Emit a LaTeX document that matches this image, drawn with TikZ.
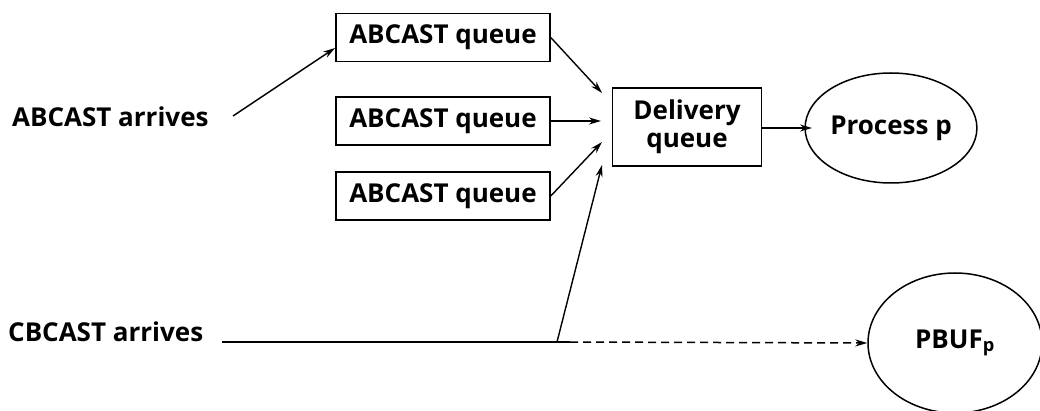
\documentclass[tikz,border=0pt]{standalone}
\usepackage{fontspec}
\setmainfont{Open Sans}
\usetikzlibrary{arrows.meta,shapes.geometric}
\begin{document}
\begin{tikzpicture}[x=1pt,y=-1pt,
  txt/.style={font=\bfseries\fontsize{26}{28}\selectfont},
  lbl/.style={txt, inner sep=0pt},
  qbox/.style={txt, draw, line width=1.5pt, minimum width=214pt, minimum height=48pt, inner sep=0pt},
  ell/.style={txt, ellipse, draw, line width=1.5pt, inner sep=0pt},
  arr/.style={-{Stealth[length=12pt,width=7pt]}, line width=1.4pt},
  line/.style={line width=1.6pt},
]
\useasboundingbox (0,0) rectangle (1040,411);
\node[lbl, anchor=west] (aa) at (12,117) {ABCAST arrives};
\node[qbox] (q1) at (443,37.5) {ABCAST queue};
\node[qbox] (q2) at (443,121) {ABCAST queue};
\node[qbox] (q3) at (443,196) {ABCAST queue};
\node[txt, draw, line width=1.5pt, minimum width=149pt, minimum height=78pt, inner sep=0pt, align=center] (dq) at (687,127) {Delivery\\queue};
\node[ell, minimum width=144pt, minimum height=110pt] (pp) at (891,128) {Process p};
\node[lbl, anchor=west] (ca) at (8,332) {CBCAST arrives};
\node[ell, minimum width=174pt, minimum height=140pt] (pb) at (955,343) {PBUF\textsubscript{p}};
\coordinate (a0) at (233,116);
\coordinate (a1) at (335,48);
\coordinate (t1) at (602,93);
\coordinate (t2) at (601,121);
\coordinate (t3) at (602,142);
\coordinate (t4) at (602,165);
\coordinate (c0) at (222,342);
\coordinate (cj) at (557,342);
\coordinate (c1) at (570,342);
\coordinate (p0) at (812,128);
\draw[arr] (a0) -- (a1);
\draw[arr] (q1.east) -- (t1);
\draw[arr] (q2.east) -- (t2);
\draw[arr] (q3.east) -- (t3);
\draw[arr] (cj) -- (t4);
\draw[arr] (dq.east |- p0) -- (p0);
\draw[line] (c0) -- (c1);
\draw[arr, line width=1.5pt, dash pattern=on 8pt off 5pt] (c1) -- (pb.west);
\end{tikzpicture}
\end{document}
